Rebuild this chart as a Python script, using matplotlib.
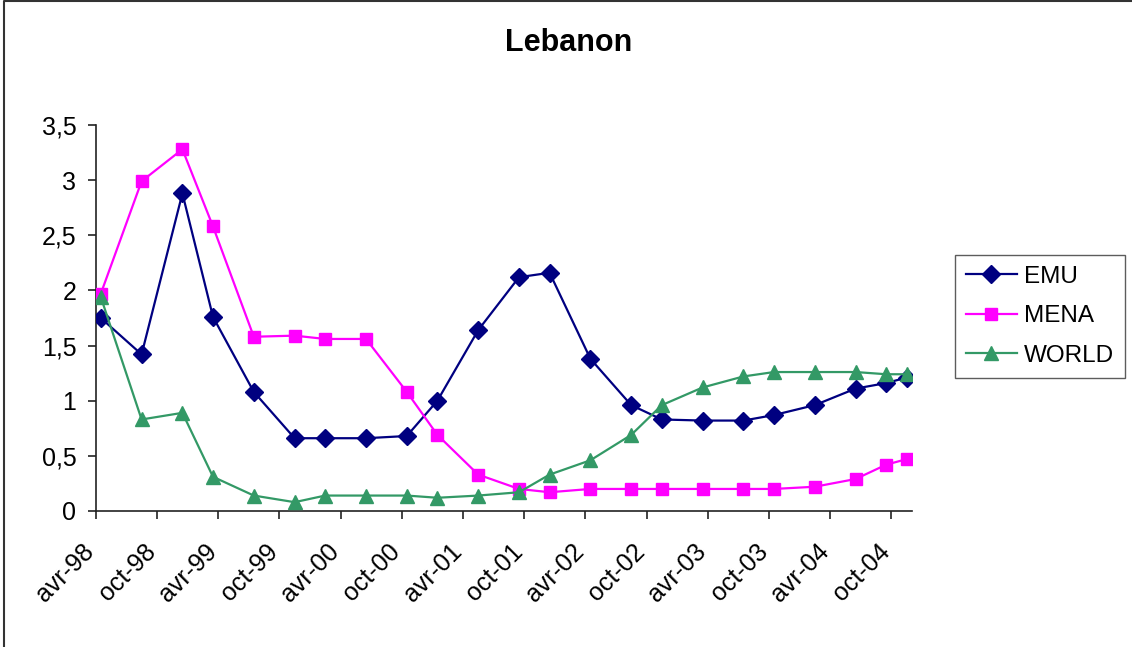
import matplotlib
matplotlib.use("Agg")
import matplotlib.pyplot as plt
from matplotlib.lines import Line2D
import pandas as pd

plt.rcParams['font.family'] = ['Liberation Sans', 'DejaVu Sans']

# Observation months
dates = ["1998-04", "1998-08", "1998-12", "1999-03", "1999-07", "1999-11",
         "2000-02", "2000-06", "2000-10", "2001-01", "2001-05", "2001-09",
         "2001-12", "2002-04", "2002-08", "2002-11", "2003-03", "2003-07",
         "2003-10", "2004-02", "2004-06", "2004-09", "2004-11"]

emu = [1.75, 1.42, 2.88, 1.76, 1.08, 0.66, 0.66, 0.66, 0.68, 1.00, 1.64, 2.12,
       2.16, 1.38, 0.96, 0.83, 0.82, 0.82, 0.87, 0.96, 1.11, 1.16, 1.21]
mena = [1.97, 2.99, 3.28, 2.58, 1.58, 1.59, 1.56, 1.56, 1.08, 0.69, 0.33, 0.20,
        0.17, 0.20, 0.20, 0.20, 0.20, 0.20, 0.20, 0.22, 0.29, 0.42, 0.47]
world = [1.94, 0.83, 0.89, 0.31, 0.14, 0.08, 0.14, 0.14, 0.14, 0.12, 0.14, 0.17,
         0.33, 0.46, 0.69, 0.96, 1.12, 1.22, 1.26, 1.26, 1.26, 1.24, 1.24]

tick_labels = ["avr-98", "oct-98", "avr-99", "oct-99", "avr-00", "oct-00",
               "avr-01", "oct-01", "avr-02", "oct-02", "avr-03", "oct-03",
               "avr-04", "oct-04"]
y_labels = ["0", "0,5", "1", "1,5", "2", "2,5", "3", "3,5"]

# Month-based date axis: each month is one slot, points sit mid-slot
per = pd.PeriodIndex(dates, freq="M")
start = pd.Period("1998-04", freq="M")
x = [(p - start).n + 0.5 for p in per]
n_months = (pd.Period("2004-11", freq="M") - start).n + 1

fig = plt.figure(figsize=(11.32, 6.47), dpi=100)
W, H = 1132, 647
ax = fig.add_axes([95.7 / W, 1 - 511 / H, (911.7 - 95.7) / W, (511 - 125) / H])

ax.plot(x, emu, color="#000080", lw=1.6, marker="D", ms=9.5, label="EMU", zorder=3)
ax.plot(x, mena, color="#FF00FF", lw=1.6, marker="s", ms=8.5, label="MENA", zorder=3)
ax.plot(x, world, color="#339966", lw=1.6, marker="^", ms=10, label="WORLD", zorder=3)

ax.set_xlim(0, n_months)
ax.set_ylim(0, 3.5)
ax.set_xticks(range(0, 6 * len(tick_labels), 6))
ax.set_xticklabels(tick_labels, rotation=45, ha="right", va="baseline",
                   rotation_mode="anchor", fontsize=18)
ax.set_yticks([i * 0.5 for i in range(len(y_labels))])
ax.set_yticklabels(y_labels, fontsize=18)
ax.tick_params(axis="both", direction="out", length=6, width=1.2, color="#222222")
ax.tick_params(axis="x", pad=24)
ax.tick_params(axis="y", pad=8)

for s in ("top", "right"):
    ax.spines[s].set_visible(False)
for s in ("left", "bottom"):
    ax.spines[s].set_color("#222222")
    ax.spines[s].set_linewidth(1.2)

fig.text(569 / W, 1 - 43 / H, "Lebanon", ha="center", va="center",
         fontsize=22, fontweight="bold")

leg = fig.legend(loc="upper left", bbox_to_anchor=(955 / W, 1 - 255 / H),
                 fontsize=17.5, frameon=True, fancybox=False, edgecolor="#333333",
                 handlelength=2.1, borderpad=0.45, labelspacing=0.72,
                 handletextpad=0.3, borderaxespad=0)
leg.get_frame().set_linewidth(1.0)

# Chart-area frame along the top and left edges
fig.lines.append(Line2D([3.5 / W, 3.5 / W, 1.0], [0.0, 1 - 0.5 / H, 1 - 0.5 / H],
                        transform=fig.transFigure, color="#333333", lw=1.5))

fig.savefig("out.png", dpi=100)
